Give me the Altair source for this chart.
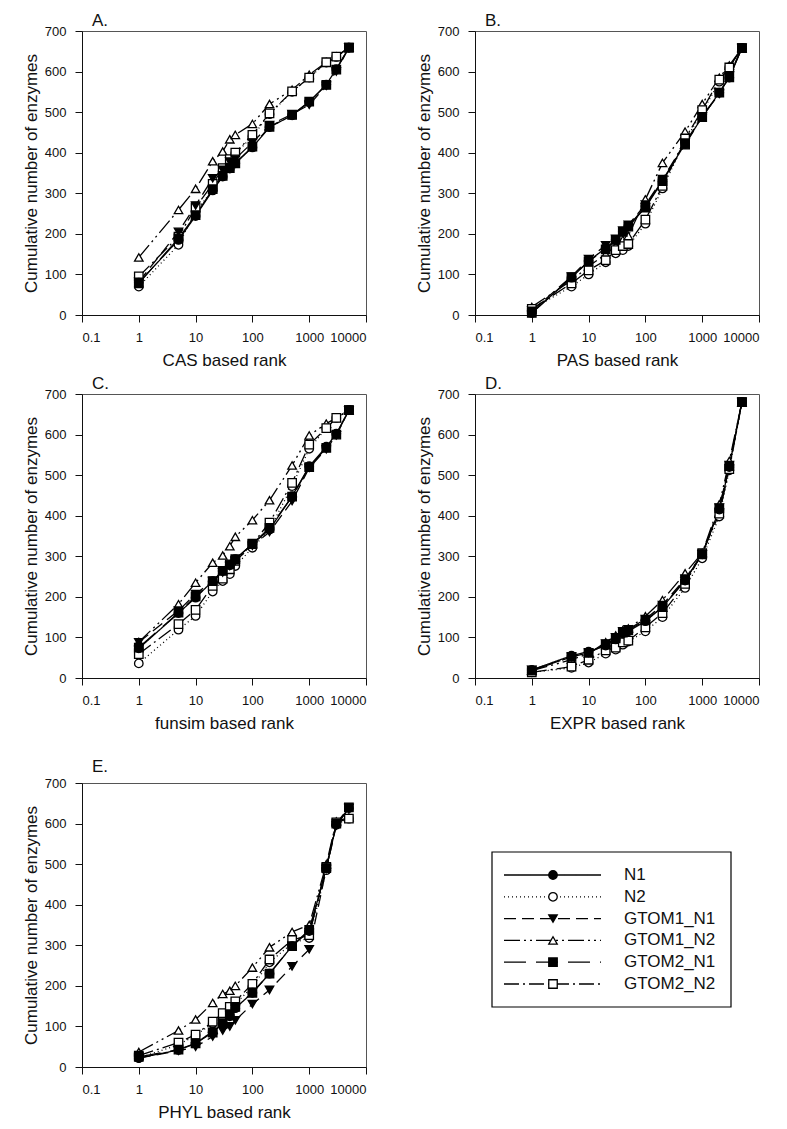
import altair as alt
import pandas as pd

RANKS = [1, 5, 10, 20, 30, 40, 50, 100, 200, 500, 1000, 2000, 3000, 5000]
SERIES = ["N1", "N2", "GTOM1_N1", "GTOM1_N2", "GTOM2_N1", "GTOM2_N2"]
DRAW_ORDER = ["N2", "GTOM1_N2", "GTOM2_N2", "N1", "GTOM1_N1", "GTOM2_N1"]
SHAPES = ["circle", "circle", "triangle-down", "triangle-up", "square", "square"]
FILLS = ["#000000", "#ffffff", "#000000", "#ffffff", "#000000", "#ffffff"]
DASHES = [[1, 0], [1, 3], [12, 6], [16, 4, 2, 4, 2, 4], [22, 10], [15, 4, 2, 4]]
X_TICKS = [0.1, 1, 10, 100, 1000, 10000]
Y_TICKS = [0, 100, 200, 300, 400, 500, 600, 700]
Y_TITLE = "Cumulative number of enzymes"

# Panel A (CAS)
A_N1 = [80, 185, 244, 307, 341, 361, 374, 413, 463, 492, 525, 568, 606, 659]
A_N2 = [70, 173, 255, 308, 355, 380, 398, 440, 495, 550, 585, 622, 636, 659]
A_GTOM1_N1 = [82, 205, 270, 337, 358, 378, 385, 425, 468, 495, 518, 565, 600, 659]
A_GTOM1_N2 = [142, 259, 311, 379, 403, 433, 444, 471, 520, 555, 592, 623, 637, 659]
A_GTOM2_N1 = [78, 189, 246, 310, 343, 362, 374, 415, 464, 493, 526, 567, 605, 659]
A_GTOM2_N2 = [95, 193, 265, 323, 362, 384, 400, 444, 497, 551, 585, 623, 637, 659]

# Panel B (PAS)
B_N1 = [5, 92, 133, 165, 185, 205, 218, 268, 332, 422, 488, 548, 585, 658]
B_N2 = [15, 70, 100, 130, 152, 160, 170, 225, 312, 430, 500, 575, 610, 658]
B_GTOM1_N1 = [10, 95, 138, 172, 188, 208, 222, 272, 335, 425, 490, 545, 590, 658]
B_GTOM1_N2 = [20, 85, 120, 150, 170, 185, 195, 285, 375, 452, 520, 585, 615, 658]
B_GTOM2_N1 = [5, 93, 132, 162, 185, 205, 218, 265, 330, 420, 488, 548, 586, 658]
B_GTOM2_N2 = [15, 78, 110, 135, 160, 170, 175, 235, 318, 435, 505, 580, 610, 658]

# Panel C (funsim)
C_N1 = [73, 160, 198, 239, 264, 278, 293, 330, 366, 448, 522, 570, 602, 660]
C_N2 = [36, 119, 153, 213, 239, 256, 276, 321, 366, 473, 565, 616, 641, 661]
C_GTOM1_N1 = [88, 166, 207, 239, 260, 276, 289, 326, 360, 436, 518, 564, 598, 660]
C_GTOM1_N2 = [89, 182, 235, 284, 302, 325, 348, 389, 438, 524, 598, 627, 641, 660]
C_GTOM2_N1 = [75, 161, 201, 239, 264, 280, 293, 331, 370, 447, 520, 567, 600, 660]
C_GTOM2_N2 = [59, 133, 168, 227, 245, 268, 289, 330, 383, 481, 575, 616, 641, 660]

# Panel D (EXPR)
D_N1 = [20, 55, 65, 80, 95, 110, 115, 140, 175, 240, 305, 415, 520, 680]
D_N2 = [14, 25, 38, 60, 70, 82, 90, 115, 150, 222, 295, 398, 512, 680]
D_GTOM1_N1 = [20, 52, 62, 85, 100, 115, 120, 145, 180, 245, 305, 420, 525, 680]
D_GTOM1_N2 = [18, 45, 60, 88, 105, 118, 122, 152, 192, 258, 308, 428, 535, 680]
D_GTOM2_N1 = [18, 52, 62, 82, 98, 112, 118, 142, 175, 242, 305, 418, 522, 680]
D_GTOM2_N2 = [14, 28, 45, 68, 75, 88, 92, 125, 160, 232, 308, 405, 515, 680]

# Panel E (PHYL)
E_N1 = [22, 42, 58, 88, 105, 125, 145, 183, 230, 298, 335, 490, 597, 638]
E_N2 = [22, 55, 78, 108, 122, 140, 155, 198, 258, 305, 318, 485, 598, 612]
E_GTOM1_N1 = [22, 40, 50, 75, 90, 100, 115, 155, 190, 248, 290, 488, 595, 638]
E_GTOM1_N2 = [37, 90, 117, 158, 180, 188, 200, 245, 295, 333, 350, 500, 605, 615]
E_GTOM2_N1 = [25, 43, 58, 85, 108, 130, 148, 183, 230, 298, 338, 490, 600, 640]
E_GTOM2_N2 = [28, 60, 80, 112, 133, 148, 162, 205, 265, 313, 325, 493, 603, 612]

PANELS = [
    ("A.", "CAS based rank", [A_N1, A_N2, A_GTOM1_N1, A_GTOM1_N2, A_GTOM2_N1, A_GTOM2_N2]),
    ("B.", "PAS based rank", [B_N1, B_N2, B_GTOM1_N1, B_GTOM1_N2, B_GTOM2_N1, B_GTOM2_N2]),
    ("C.", "funsim based rank", [C_N1, C_N2, C_GTOM1_N1, C_GTOM1_N2, C_GTOM2_N1, C_GTOM2_N2]),
    ("D.", "EXPR based rank", [D_N1, D_N2, D_GTOM1_N1, D_GTOM1_N2, D_GTOM2_N1, D_GTOM2_N2]),
    ("E.", "PHYL based rank", [E_N1, E_N2, E_GTOM1_N1, E_GTOM1_N2, E_GTOM2_N1, E_GTOM2_N2]),
]

FONT = "Liberation Sans"
INK = "#111111"
TITLE_OFFSET = -5
LW = 1.3

dash_scale = alt.Scale(domain=SERIES, range=DASHES)
shape_scale = alt.Scale(domain=SERIES, range=SHAPES)
fill_scale = alt.Scale(domain=SERIES, range=FILLS)


def make_panel(letter, xtitle, values, last=False):
    rows = []
    lookup = dict(zip(SERIES, values))
    for s in DRAW_ORDER:
        for r, v in zip(RANKS, lookup[s]):
            rows.append({"rank": r, "value": v, "series": s, "ord": DRAW_ORDER.index(s)})
    df = pd.DataFrame(rows)
    x = alt.X("rank:Q",
              scale=alt.Scale(type="log", domain=[0.1, 10000]),
              axis=alt.Axis(values=X_TICKS, format="~g", title=xtitle))
    y = alt.Y("value:Q",
              scale=alt.Scale(domain=[0, 700], nice=False, zero=True),
              axis=alt.Axis(values=Y_TICKS, title=Y_TITLE))
    base = alt.Chart(df).encode(x=x, y=y)
    lines = base.mark_line(color="black", strokeWidth=LW).encode(
        strokeDash=alt.StrokeDash("series:N", scale=dash_scale, legend=None),
        detail="series:N",
    )
    pts = base.mark_point(size=72, stroke="black", strokeWidth=LW, opacity=1,
                          fillOpacity=1, filled=False).encode(
        shape=alt.Shape("series:N", scale=shape_scale, legend=None),
        fill=alt.Fill("series:N", scale=fill_scale, legend=None),
        order=alt.Order("ord:Q"),
    )
    if last:
        title = alt.TitleParams(["", letter], lineHeight=20, offset=TITLE_OFFSET + 6)
    else:
        title = alt.TitleParams(letter)
    return alt.layer(lines, pts).properties(width=284, height=284, title=title)


panels = [make_panel(l, t, v, last=(i == 4)) for i, (l, t, v) in enumerate(PANELS)]

# Legend panel
LEG_TOP = 69
LEG_H = 155
leg_df = pd.DataFrame({"series": SERIES})
yleg = alt.Y("series:N", sort=SERIES, axis=None,
             scale=alt.Scale(type="point", padding=0,
                             range=[LEG_TOP + 23, LEG_TOP + LEG_H - 23]))
leg_base = alt.Chart(leg_df).encode(y=yleg)
leg_lines = leg_base.mark_rule(color="black", strokeWidth=LW).encode(
    x=alt.value(29), x2=alt.value(126),
    strokeDash=alt.StrokeDash("series:N", scale=dash_scale, legend=None),
)
leg_pts = leg_base.mark_point(size=72, stroke="black", strokeWidth=LW, opacity=1,
                              fillOpacity=1, filled=False).encode(
    x=alt.value(78),
    shape=alt.Shape("series:N", scale=shape_scale, legend=None),
    fill=alt.Fill("series:N", scale=fill_scale, legend=None),
)
leg_text = leg_base.mark_text(align="left", baseline="middle", font=FONT,
                              fontSize=17, color=INK).encode(
    x=alt.value(149), text="series:N")
box = alt.Chart(pd.DataFrame({"b": [0]})).mark_rect(
    fill="transparent", stroke="black", strokeWidth=1.2).encode(
    x=alt.value(17), x2=alt.value(256),
    y=alt.value(LEG_TOP), y2=alt.value(LEG_TOP + LEG_H))
legend = alt.layer(box, leg_lines, leg_pts, leg_text).properties(
    width=270, height=LEG_TOP + LEG_H + 5,
    view=alt.ViewBackground(stroke="transparent"))

chart = alt.concat(*panels, legend, columns=2,
                   spacing=alt.RowColnumber(row=5, column=47)).properties(
    align="each",
    padding={"left": 13, "top": 3, "right": 5, "bottom": 5},
).configure_view(
    stroke="#555555", strokeWidth=1
).configure_axis(
    labelFont=FONT, titleFont=FONT, labelFontSize=13, titleFontSize=17,
    titleFontWeight="normal", labelColor=INK, titleColor=INK,
    domainColor=INK, tickColor=INK, tickSize=7, grid=False,
).configure_axisX(
    labelPadding=9, titlePadding=8,
).configure_axisY(
    labelPadding=9,
).configure_title(
    font=FONT, fontSize=17, fontWeight="normal", anchor="start", frame="group",
    offset=TITLE_OFFSET, dx=10, color=INK,
)

chart.save("out.html", embed_options={"renderer": "svg", "actions": False})
